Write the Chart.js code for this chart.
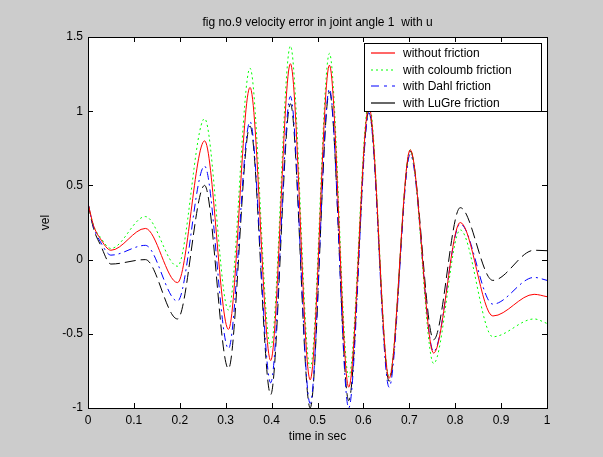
<!DOCTYPE html>
<html>
<head>
<meta charset="utf-8">
<script src="https://cdn.jsdelivr.net/npm/chart.js@4.4.1/dist/chart.umd.min.js"></script>
<style>
    html, body { margin: 0; padding: 0; background: #cccccc; }
    canvas { display: block; }
</style>
</head>
<body>
<canvas id="velChart" width="603" height="457"></canvas>
<script>
// values (extrema + a few start points)
const timeSec = [0, 0.012, 0.027, 0.05, 0.125, 0.195, 0.254, 0.306, 0.353, 0.398, 0.441, 0.484, 0.526, 0.568, 0.612, 0.656, 0.702, 0.753, 0.811, 0.882, 0.972, 1.0];

const withoutFriction = [0.38, 0.23, 0.14, 0.063, 0.21, -0.155, 0.80, -0.47, 1.16, -0.68, 1.32, -0.81, 1.31, -0.86, 1.03, -0.80, 0.74, -0.63, 0.25, -0.38, -0.234, -0.25];
const coulombFriction = [0.38, 0.23, 0.15, 0.075, 0.29, -0.045, 0.95, -0.34, 1.29, -0.59, 1.44, -0.73, 1.39, -0.79, 1.06, -0.79, 0.74, -0.70, 0.20, -0.52, -0.40, -0.43];
const dahlFriction = [0.38, 0.22, 0.12, 0.03, 0.096, -0.28, 0.63, -0.60, 0.93, -0.83, 1.10, -0.97, 1.15, -1.0, 0.99, -0.86, 0.71, -0.62, 0.24, -0.30, -0.12, -0.14];
const lugreFriction = [0.38, 0.21, 0.10, -0.03, 0.0, -0.40, 0.50, -0.735, 0.90, -0.91, 1.05, -1.0, 1.13, -0.95, 1.0, -0.82, 0.73, -0.54, 0.35, -0.14, 0.063, 0.06];

const seriesNames = ["without friction", "with coloumb friction", "with Dahl friction", "with LuGre friction"];
const seriesColors = ["#ff0000", "#00ff00", "#0000ff", "#000000"];
const seriesDash = [[], [2, 3], [8, 4, 2, 4], [11, 5]];
const legendDash = [[], [2, 3], [8, 5, 3, 5], []];

const xTickValues = [0, 0.1, 0.2, 0.3, 0.4, 0.5, 0.6, 0.7, 0.8, 0.9, 1];
const xTickLabels = ["0", "0.1", "0.2", "0.3", "0.4", "0.5", "0.6", "0.7", "0.8", "0.9", "1"];
const yTickValues = [-1, -0.5, 0, 0.5, 1, 1.5];
const yTickLabels = ["-1", "-0.5", "0", "0.5", "1", "1.5"];

const chartTitle = "fig no.9 velocity error in joint angle 1  with u";
const xAxisLabel = "time in sec";
const yAxisLabel = "vel";

const FONT = "12px 'Liberation Sans', Arial, sans-serif";

function toPoints(values) {
    return values.map((v, i) => ({ x: timeSec[i], y: v }));
}

function makeDataset(i, values) {
    return {
        label: seriesNames[i],
        data: toPoints(values),
        borderColor: seriesColors[i],
        borderWidth: 1,
        borderDash: seriesDash[i],
        pointRadius: 0,
        fill: false,
        cubicInterpolationMode: "monotone",
    };
}

// MATLAB-ish frame: grey figure, white axes, box with inward ticks, legend in the corner
const matlabFrame = {
    id: "matlabFrame",
    beforeDraw(chart) {
        const { ctx, chartArea: a } = chart;
        ctx.save();
        ctx.fillStyle = "#cccccc";
        ctx.fillRect(0, 0, chart.width, chart.height);
        ctx.fillStyle = "#ffffff";
        ctx.fillRect(a.left, a.top, a.right - a.left, a.bottom - a.top);
        ctx.restore();
    },
    afterDatasetsDraw(chart) {
        const { ctx, chartArea: a, scales } = chart;
        ctx.save();
        ctx.strokeStyle = "#000000";
        ctx.lineWidth = 1;
        ctx.setLineDash([]);
        ctx.beginPath();

        const tl = 5;
        scales.x.ticks.forEach((t) => {
            const px = Math.round(scales.x.getPixelForValue(t.value)) + 0.5;
            ctx.moveTo(px, a.bottom);
            ctx.lineTo(px, a.bottom - tl);
            ctx.moveTo(px, a.top);
            ctx.lineTo(px, a.top + tl);
        });
        scales.y.ticks.forEach((t) => {
            const py = Math.round(scales.y.getPixelForValue(t.value)) + 0.5;
            ctx.moveTo(a.left, py);
            ctx.lineTo(a.left + tl, py);
            ctx.moveTo(a.right, py);
            ctx.lineTo(a.right - tl, py);
        });
        ctx.stroke();

        ctx.strokeRect(Math.round(a.left) + 0.5, Math.round(a.top) + 0.5,
            Math.round(a.right - a.left), Math.round(a.bottom - a.top));

        // legend box
        const lx = 364.5, ly = 43.5, lw = 177, lh = 68;
        ctx.fillStyle = "#ffffff";
        ctx.fillRect(lx, ly, lw, lh);
        ctx.strokeStyle = "#000000";
        ctx.strokeRect(lx, ly, lw, lh);

        ctx.font = FONT;
        ctx.textBaseline = "middle";
        ctx.textAlign = "left";
        seriesNames.forEach((name, i) => {
            const rowY = Math.round(53 + i * 16.6);
            ctx.strokeStyle = seriesColors[i];
            ctx.lineWidth = 1.2;
            ctx.setLineDash(legendDash[i]);
            ctx.beginPath();
            ctx.moveTo(371, rowY);
            ctx.lineTo(395, rowY);
            ctx.stroke();
            ctx.fillStyle = "#000000";
            ctx.fillText(name, 403, rowY + 1);
        });
        ctx.restore();
    },
    afterDraw(chart) {
        const { ctx, chartArea: a } = chart;
        ctx.save();
        ctx.fillStyle = "#000000";
        ctx.font = FONT;
        ctx.textAlign = "center";
        ctx.textBaseline = "middle";
        ctx.fillText(chartTitle, (a.left + a.right) / 2, 23);
        ctx.fillText(xAxisLabel, (a.left + a.right) / 2, 437);
        ctx.translate(46, (a.top + a.bottom) / 2);
        ctx.rotate(-Math.PI / 2);
        ctx.fillText(yAxisLabel, 0, 0);
        ctx.restore();
    },
};

const ctx = document.getElementById("velChart").getContext("2d");

new Chart(ctx, {
    type: "line",
    data: {
        datasets: [
            makeDataset(0, withoutFriction),
            makeDataset(1, coulombFriction),
            makeDataset(2, dahlFriction),
            makeDataset(3, lugreFriction),
        ],
    },
    options: {
        responsive: false,
        animation: false,
        devicePixelRatio: 1,
        layout: { padding: { top: 37, right: 56, left: 0, bottom: 0 } },
        plugins: {
            legend: { display: false },
            title: { display: false },
            tooltip: { enabled: false },
        },
        scales: {
            x: {
                type: "linear",
                min: 0,
                max: 1,
                afterBuildTicks: (scale) => {
                    scale.ticks = xTickValues.map((v) => ({ value: v }));
                },
                afterFit: (scale) => { scale.height = 49; },
                ticks: {
                    color: "#000000",
                    font: { family: "'Liberation Sans', Arial, sans-serif", size: 12 },
                    padding: 5,
                    maxRotation: 0,
                    autoSkip: false,
                    callback: (v) => xTickLabels[xTickValues.indexOf(v)],
                },
                grid: { display: false, drawTicks: false },
                border: { display: false },
            },
            y: {
                type: "linear",
                min: -1,
                max: 1.5,
                afterBuildTicks: (scale) => {
                    scale.ticks = yTickValues.map((v) => ({ value: v }));
                },
                afterFit: (scale) => { scale.width = 88; },
                ticks: {
                    color: "#000000",
                    font: { family: "'Liberation Sans', Arial, sans-serif", size: 12 },
                    padding: 5,
                    autoSkip: false,
                    callback: (v) => yTickLabels[yTickValues.indexOf(v)],
                },
                grid: { display: false, drawTicks: false },
                border: { display: false },
            },
        },
    },
    plugins: [matlabFrame],
});
</script>
</body>
</html>
